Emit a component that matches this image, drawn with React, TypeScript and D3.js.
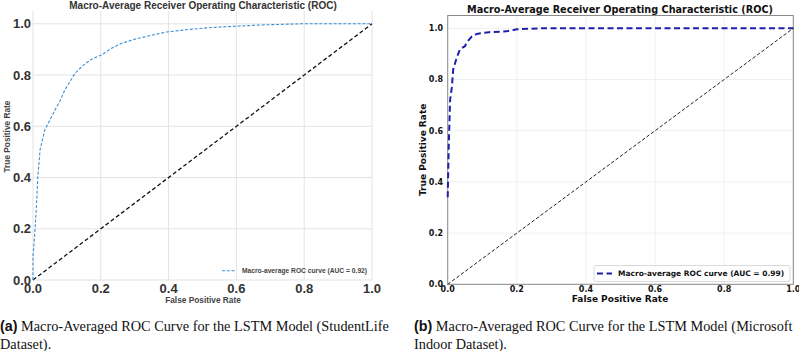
import * as d3 from "d3";

// Panel (a): StudentLife
const fprA = [0, 0, 0.006, 0.011, 0.014, 0.021, 0.035, 0.055, 0.065, 0.08, 0.094, 0.124, 0.134, 0.15, 0.173, 0.203, 0.232, 0.262, 0.3, 0.355, 0.394, 0.453, 0.53, 0.59, 0.66, 0.79, 1.0];
const tprA = [0, 0.09, 0.195, 0.31, 0.4, 0.51, 0.586, 0.638, 0.664, 0.7, 0.742, 0.807, 0.82, 0.84, 0.862, 0.879, 0.905, 0.924, 0.94, 0.957, 0.968, 0.977, 0.986, 0.99, 0.995, 1.0, 1.0];

// Panel (b): Microsoft Indoor
const fprB = [0, 0.003, 0.007, 0.012, 0.016, 0.026, 0.036, 0.05, 0.055, 0.069, 0.084, 0.12, 0.17, 0.2, 0.27, 1.0];
const tprB = [0.34, 0.54, 0.72, 0.77, 0.84, 0.885, 0.92, 0.93, 0.945, 0.967, 0.978, 0.985, 0.988, 0.996, 1.0, 1.0];

const ticks = [0, 0.2, 0.4, 0.6, 0.8, 1.0];
const diag = [0, 1];

const title = "Macro-Average Receiver Operating Characteristic (ROC)";
const legendA = "Macro-average ROC curve (AUC = 0.92)";
const legendB = "Macro-average ROC curve (AUC = 0.99)";
const captionA = ["Macro-Averaged ROC Curve for the LSTM Model (StudentLife", "Dataset)."];
const captionB = ["Macro-Averaged ROC Curve for the LSTM Model (Microsoft", "Indoor Dataset)."];

const zip = (xs: number[], ys: number[]) => xs.map((x, i) => [x, ys[i]] as [number, number]);

function PanelA() {
  const x = d3.scaleLinear().domain([0, 1]).range([33, 372]);
  const y = d3.scaleLinear().domain([0, 1.05]).range([280, 11]);
  const line = d3.line<[number, number]>().x((d) => x(d[0])).y((d) => y(d[1]));
  const font = "Liberation Sans, Arial, sans-serif";
  return (
    <g fontFamily={font}>
      {ticks.map((t) => (
        <line key={"gx" + t} x1={x(t)} x2={x(t)} y1={y(1.05)} y2={y(0)} stroke="#e3e3e3" strokeWidth={1} />
      ))}
      {ticks.map((t) => (
        <line key={"gy" + t} x1={x(0)} x2={x(1)} y1={y(t)} y2={y(t)} stroke="#e3e3e3" strokeWidth={1} />
      ))}
      <path d={line(zip(diag, diag))!} fill="none" stroke="#111" strokeWidth={1.3} strokeDasharray="4,2.5" />
      <path d={line(zip(fprA, tprA))!} fill="none" stroke="#3d8fd3" strokeWidth={1.1} strokeDasharray="3,1.8" />
      {ticks.map((t) => (
        <text key={"ty" + t} x={31} y={y(t)} dy="0.35em" textAnchor="end" fontSize={13} fontWeight="bold" fill="#333">
          {t.toFixed(1)}
        </text>
      ))}
      {ticks.map((t) => (
        <text key={"tx" + t} x={x(t)} y={293} textAnchor="middle" fontSize={13} fontWeight="bold" fill="#333">
          {t.toFixed(1)}
        </text>
      ))}
      <text x={203} y={9} textAnchor="middle" fontSize={10} fontWeight="bold" fill="#333">{title}</text>
      <text x={203} y={303} textAnchor="middle" fontSize={8.3} fontWeight="bold" fill="#444">False Positive Rate</text>
      <text transform={`translate(10,${y(0.56)}) rotate(-90)`} textAnchor="middle" fontSize={8.3} fontWeight="bold" fill="#444">True Positive Rate</text>
      <line x1={222} x2={236} y1={270.7} y2={270.7} stroke="#3d8fd3" strokeWidth={1.1} strokeDasharray="3,1.8" />
      <text x={242} y={270.7} dy="0.35em" fontSize={6.7} fontWeight="bold" fill="#444">{legendA}</text>
    </g>
  );
}

function PanelB() {
  const x = d3.scaleLinear().domain([0, 1]).range([447.7, 793.3]);
  const y = d3.scaleLinear().domain([0, 1.05]).range([284.3, 15.5]);
  const line = d3.line<[number, number]>().x((d) => x(d[0])).y((d) => y(d[1]));
  const font = "DejaVu Sans, sans-serif";
  return (
    <g fontFamily={font}>
      {ticks.map((t) => (
        <line key={"gx" + t} x1={x(t)} x2={x(t)} y1={y(1.05)} y2={y(0)} stroke="#ececec" strokeWidth={0.8} />
      ))}
      {ticks.map((t) => (
        <line key={"gy" + t} x1={x(0)} x2={x(1)} y1={y(t)} y2={y(t)} stroke="#ececec" strokeWidth={0.8} />
      ))}
      <rect x={x(0)} y={y(1.05)} width={x(1) - x(0)} height={y(0) - y(1.05)} fill="none" stroke="#8a8a8a" strokeWidth={1} />
      <path d={line(zip(diag, diag))!} fill="none" stroke="#222" strokeWidth={1} strokeDasharray="3.5,2" />
      <path d={line(zip(fprB, tprB))!} fill="none" stroke="#1f1fae" strokeWidth={2} strokeDasharray="6,3.5" />
      {ticks.map((t) => (
        <text key={"ty" + t} x={443} y={y(t)} dy="0.35em" textAnchor="end" fontSize={8} fontWeight="bold" fill="#111">
          {t.toFixed(1)}
        </text>
      ))}
      {ticks.map((t) => (
        <text key={"tx" + t} x={x(t)} y={291.5} textAnchor="middle" fontSize={8} fontWeight="bold" fill="#111">
          {t.toFixed(1)}
        </text>
      ))}
      <text x={620} y={12.5} textAnchor="middle" fontSize={9.7} fontWeight="bold" fill="#111">{title}</text>
      <text x={620} y={302} textAnchor="middle" fontSize={9} fontWeight="bold" fill="#111">False Positive Rate</text>
      <text transform={`translate(426,${y(0.525)}) rotate(-90)`} textAnchor="middle" fontSize={9} fontWeight="bold" fill="#111">True Positive Rate</text>
      <rect x={594} y={265.5} width={196} height={16} rx={2} fill="#fff" stroke="#d0d0d0" strokeWidth={0.8} />
      <line x1={597} x2={612} y1={273.5} y2={273.5} stroke="#1f1fae" strokeWidth={2} strokeDasharray="6,3.5" />
      <text x={618} y={273.5} dy="0.35em" fontSize={7.5} fontWeight="bold" fill="#111">{legendB}</text>
    </g>
  );
}

function Caption({ x0, label, lines }: { x0: number; label: string; lines: string[] }) {
  return (
    <g fill="#111">
      <text x={x0} y={331} fontSize={14.3}>
        <tspan fontFamily="Liberation Sans, Arial, sans-serif" fontWeight="bold">{label}</tspan>
        <tspan fontFamily="Liberation Serif, Times New Roman, serif">{" " + lines[0]}</tspan>
      </text>
      <text x={x0} y={348.5} fontSize={14.3} fontFamily="Liberation Serif, Times New Roman, serif">
        {lines[1]}
      </text>
    </g>
  );
}

export default function App() {
  return (
    <svg width={799} height={351} style={{ position: "absolute", left: 0, top: 0, background: "#fff" }}>
      <rect width={799} height={351} fill="#fff" />
      <PanelA />
      <PanelB />
      <Caption x0={0} label="(a)" lines={captionA} />
      <Caption x0={414} label="(b)" lines={captionB} />
    </svg>
  );
}
